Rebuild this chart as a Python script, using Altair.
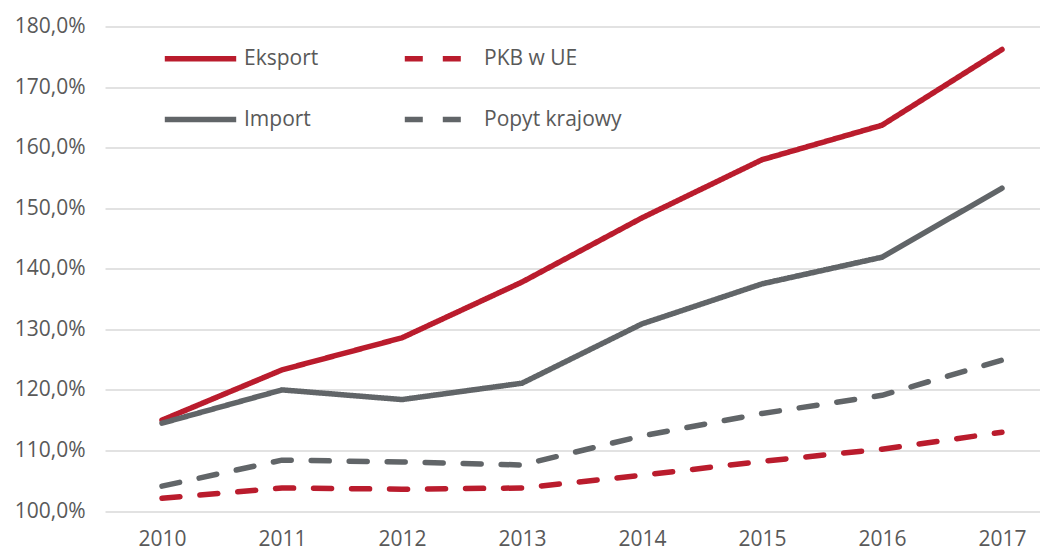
import altair as alt
import pandas as pd

years = [2010, 2011, 2012, 2013, 2014, 2015, 2016, 2017]
series_names = ["Eksport", "Import", "PKB w UE", "Popyt krajowy"]
eksport = [115.0, 123.3, 128.6, 137.8, 148.4, 158.0, 163.7, 176.2]
importy = [114.5, 120.0, 118.4, 121.1, 130.9, 137.5, 141.9, 153.3]
pkb_ue = [102.1, 103.8, 103.6, 103.8, 105.9, 108.2, 110.2, 113.0]
popyt = [104.1, 108.4, 108.1, 107.6, 112.4, 116.1, 119.1, 124.9]
y_ticks = [100, 110, 120, 130, 140, 150, 160, 170, 180]

colors = ["#BA1C2D", "#616568", "#BA1C2D", "#616568"]
dashes = [[1, 0], [1, 0], [18, 20], [18, 20]]

rows = []
for name, vals in zip(series_names, [eksport, importy, pkb_ue, popyt]):
    for yr, v in zip(years, vals):
        rows.append({"rok": yr, "seria": name, "wartosc": v})
df = pd.DataFrame(rows)

font = "Open Sans"
txt = "#595959"
fs = 21

legend = alt.Legend(
    title=None, orient="none", legendX=57, legendY=-6.5, columns=2,
    values=series_names,
    symbolType="stroke", symbolSize=5100, symbolStrokeWidth=5.5,
    labelFontSize=fs, labelFont=font, labelColor=txt, labelOffset=5,
    columnPadding=74, rowPadding=11, padding=0,
)

chart = alt.Chart(df).mark_line(strokeWidth=5.5, strokeCap="round", strokeJoin="round").encode(
    x=alt.X("rok:Q", scale=alt.Scale(domain=[2009.525, 2017.317], nice=False, zero=False),
            axis=alt.Axis(values=years, format="d", title=None, grid=False, domain=False, ticks=False,
                          labelFontSize=fs, labelFont=font, labelColor=txt, labelPadding=17)),
    y=alt.Y("wartosc:Q", scale=alt.Scale(domain=[100, 180], nice=False, zero=False),
            axis=alt.Axis(values=y_ticks, title=None, domain=False, ticks=False,
                          labelExpr="replace(format(datum.value, '.1f'), '.', ',') + '%'",
                          labelFontSize=fs, labelFont=font, labelColor=txt, labelPadding=20,
                          gridColor="#D9D9D9", gridWidth=1.6)),
    color=alt.Color("seria:N", scale=alt.Scale(domain=series_names, range=colors), sort=series_names, legend=legend),
    strokeDash=alt.StrokeDash("seria:N", scale=alt.Scale(domain=series_names, range=dashes), sort=series_names, legend=legend),
).properties(
    width=935, height=484.5,
    padding={"left": 97, "top": 18.5, "right": 0, "bottom": 48},
    autosize=alt.AutoSizeParams(type="none"),
).configure_view(stroke=None)

chart.save("out.html", embed_options={"renderer": "svg", "actions": False})
